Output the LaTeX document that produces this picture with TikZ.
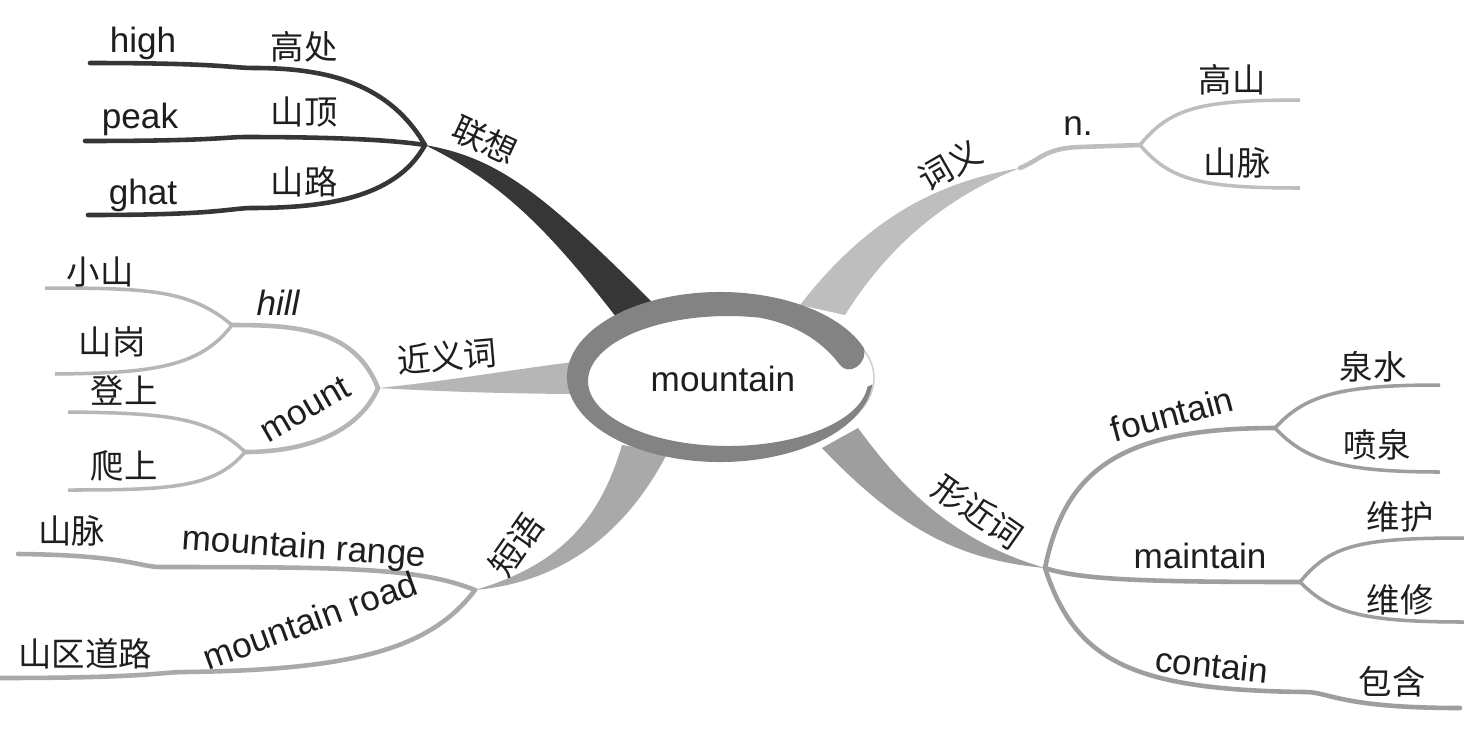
\documentclass[tikz,border=0pt]{standalone}
\usepackage{fontspec}
\setmainfont{Liberation Sans}
\newfontfamily\cjk{Noto Sans CJK SC}
\usetikzlibrary{calc}
\definecolor{MapDark}{HTML}{363636}
\definecolor{MapNear}{HTML}{B6B6B6}
\definecolor{MapPhrase}{HTML}{A9A9A9}
\definecolor{MapMean}{HTML}{BEBEBE}
\definecolor{MapLook}{HTML}{9E9E9E}
\definecolor{MapRing}{HTML}{838383}
\definecolor{MapText}{HTML}{1E1E1E}
\tikzset{
  word/.style={font=\fontsize{20}{24}\selectfont, text=MapText, inner sep=0pt},
  cn/.style={font=\cjk\fontsize{19}{22}\selectfont, text=MapText, inner sep=0pt},
  twig/.style={line width=2.6pt, line cap=round},
  tip/.style={line width=2pt}
}
\begin{document}
\begin{tikzpicture}[x=0.02cm, y=-0.02cm]
\useasboundingbox (0,0) rectangle (1464,731);
\fill[white] (0,0) rectangle (1464,731);

% junctions
\coordinate (assoc) at (425,145);
\coordinate (near) at (378,388);
\coordinate (hillj) at (232,325);
\coordinate (mountj) at (245,452);
\coordinate (phrase) at (475,590);
\coordinate (mean) at (1020,168);
\coordinate (nj) at (1140,145);
\coordinate (look) at (1045,568);
\coordinate (fountj) at (1275,428);
\coordinate (maintj) at (1300,582);

% main branches
\fill[MapDark] (assoc) .. controls (500,158) and (545,195) .. (660,310)
  -- (620,322) .. controls (545,225) and (500,182) .. (assoc) -- cycle;
\fill[MapNear] (near) .. controls (450,381) and (520,368) .. (590,360)
  -- (590,394) .. controls (520,394) and (450,392) .. (near) -- cycle;
\fill[MapPhrase] (phrase) .. controls (560,565) and (600,520) .. (622,445)
  -- (668,452) .. controls (628,530) and (565,582) .. (phrase) -- cycle;
\fill[MapMean] (800,305) .. controls (870,215) and (940,182) .. (mean)
  .. controls (952,195) and (892,240) .. (845,315) -- cycle;
\fill[MapLook] (858,428) .. controls (900,485) and (950,540) .. (look)
  .. controls (960,560) and (900,530) .. (822,448) -- cycle;

% 联想
\draw[MapDark, twig] (assoc) .. controls (390,85) and (330,68) .. (255,68)
  .. controls (230,68) and (222,63) .. (90,63);
\draw[MapDark, twig] (assoc) .. controls (380,138) and (300,137) .. (245,137)
  .. controls (225,137) and (215,141) .. (85,141);
\draw[MapDark, twig] (assoc) .. controls (395,200) and (320,208) .. (250,208)
  .. controls (225,209) and (215,215) .. (88,215);

% 近义词
\draw[MapNear, twig] (near) .. controls (355,330) and (300,325) .. (hillj);
\draw[MapNear, twig] (near) .. controls (360,430) and (310,452) .. (mountj);
\draw[MapNear, tip] (hillj) .. controls (190,290) and (150,288) .. (45,288);
\draw[MapNear, tip] (hillj) .. controls (200,368) and (150,373) .. (55,374);
\draw[MapNear, tip] (mountj) .. controls (210,418) and (170,413) .. (68,412);
\draw[MapNear, tip] (mountj) .. controls (215,488) and (170,490) .. (68,490);

% 短语
\draw[MapPhrase, twig] (phrase) .. controls (420,568) and (350,567) .. (160,567)
  .. controls (140,567) and (125,555) .. (18,554);
\draw[MapPhrase, twig] (phrase) .. controls (430,650) and (350,670) .. (185,672)
  .. controls (160,672) and (150,678) .. (0,678);

% 词义
\draw[MapMean, twig] (mean) .. controls (1040,160) and (1045,148) .. (1080,147) -- (nj);
\draw[MapMean, tip] (nj) .. controls (1170,108) and (1200,100) .. (1300,100);
\draw[MapMean, tip] (nj) .. controls (1170,180) and (1200,188) .. (1300,188);

% 形近词
\draw[MapLook, twig] (look) .. controls (1065,470) and (1120,428) .. (fountj);
\draw[MapLook, twig] (look) .. controls (1080,580) and (1150,582) .. (maintj);
\draw[MapLook, twig] (look) .. controls (1075,660) and (1130,690) .. (1305,692)
  .. controls (1330,692) and (1340,708) .. (1460,708);
\draw[MapLook, tip] (fountj) .. controls (1305,395) and (1340,385) .. (1440,385);
\draw[MapLook, tip] (fountj) .. controls (1305,460) and (1340,472) .. (1440,472);
\draw[MapLook, tip] (maintj) .. controls (1330,545) and (1360,538) .. (1464,538);
\draw[MapLook, tip] (maintj) .. controls (1330,612) and (1360,622) .. (1464,622);

% centre
\fill[white, draw=black!20, line width=0.8pt] (724,378) ellipse [x radius=150, y radius=78];
\fill[MapRing] (720,377) ++(340:153 and 85)
  arc[start angle=340, end angle=5, x radius=153, y radius=85]
  -- ($(728,381)+(5:140 and 65)$)
  arc[start angle=5, end angle=283, x radius=140, y radius=65]
  .. controls (800,325) and (825,345) .. (840,365)
  .. controls (848,376) and (868,365) .. ($(720,377)+(340:153 and 85)$) -- cycle;
\node[word] (topic) at (723,379) {mountain};

% labels
\node[cn, rotate=-25] (l-assoc) at (485,140) {联想};
\node[word] (high) at (143,43) {high};
\node[word] (peak) at (140,119) {peak};
\node[word] (ghat) at (143,195) {ghat};
\node[cn] (c-high) at (304,47) {高处};
\node[cn] (c-peak) at (304,112) {山顶};
\node[cn] (c-ghat) at (304,182) {山路};

\node[cn, rotate=5] (l-near) at (447,356) {近义词};
\node[word, font=\fontsize{20}{24}\selectfont\itshape] (hill) at (278,303) {hill};
\node[word, rotate=30] (mount) at (305,409) {mount};
\node[cn] (c-hill1) at (100,272) {小山};
\node[cn] (c-hill2) at (112,342) {山岗};
\node[cn] (c-mount1) at (124,390) {登上};
\node[cn] (c-mount2) at (124,466) {爬上};

\node[cn, rotate=55] (l-phrase) at (516,545) {短语};
\node[word, rotate=-4] (range) at (304,549) {mountain range};
\node[word, rotate=20] (road) at (310,620) {mountain road};
\node[cn] (c-range) at (72,531) {山脉};
\node[cn] (c-road) at (85,654) {山区道路};

\node[cn, rotate=30] (l-mean) at (950,165) {词义};
\node[word] (noun) at (1078,126) {n.};
\node[cn] (c-noun1) at (1232,80) {高山};
\node[cn] (c-noun2) at (1237,163) {山脉};

\node[cn, rotate=-35] (l-look) at (978,512) {形近词};
\node[word, rotate=15] (fountain) at (1172,414) {fountain};
\node[word] (maintain) at (1200,556) {maintain};
\node[word, rotate=-6] (contain) at (1212,665) {contain};
\node[cn] (c-fount1) at (1373,367) {泉水};
\node[cn] (c-fount2) at (1377,445) {喷泉};
\node[cn] (c-maint1) at (1400,517) {维护};
\node[cn] (c-maint2) at (1400,600) {维修};
\node[cn] (c-contain) at (1392,682) {包含};
\end{tikzpicture}
\end{document}
